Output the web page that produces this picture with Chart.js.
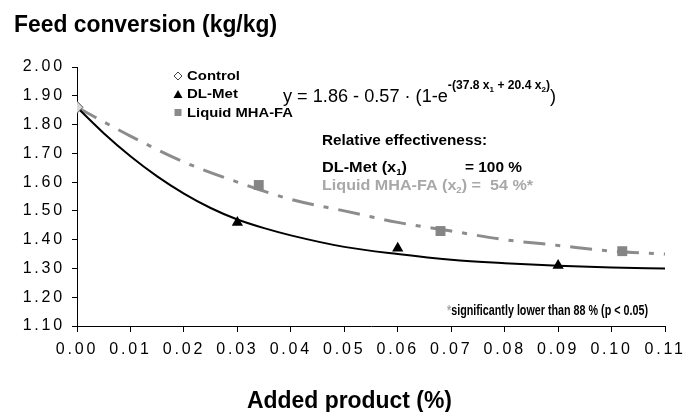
<!DOCTYPE html>
<html>
<head>
<meta charset="utf-8">
<script src="https://cdn.jsdelivr.net/npm/chart.js@4"></script>
<style>
  html, body { margin: 0; padding: 0; background: #fff; }
  #feedChart { display: block; }
</style>
</head>
<body>
<canvas id="feedChart" width="688" height="412"></canvas>
<script>
// values
const xTicks = [0, 0.01, 0.02, 0.03, 0.04, 0.05, 0.06, 0.07, 0.08, 0.09, 0.10, 0.11];
const yTicks = [1.1, 1.2, 1.3, 1.4, 1.5, 1.6, 1.7, 1.8, 1.9, 2.0];

const controlX = [0];
const controlY = [1.86];
const dlMetX = [0.03, 0.06, 0.09];
const dlMetY = [1.46, 1.37, 1.31];
const mhaX = [0.034, 0.068, 0.102];
const mhaY = [1.59, 1.43, 1.36];

// fitted curves
const dlFitX = [0, 0.005, 0.01, 0.015, 0.02, 0.025, 0.03, 0.035, 0.04, 0.05, 0.06, 0.07, 0.08, 0.09, 0.10, 0.11];
const dlFitY = [1.86, 1.77, 1.69, 1.62, 1.56, 1.51, 1.47, 1.44, 1.415, 1.375, 1.35, 1.33, 1.318, 1.309, 1.303, 1.30];
const mhaFitX = [0, 0.01, 0.02, 0.03, 0.04, 0.05, 0.06, 0.07, 0.08, 0.09, 0.10, 0.11];
const mhaFitY = [1.86, 1.76, 1.67, 1.60, 1.54, 1.50, 1.46, 1.43, 1.40, 1.38, 1.36, 1.35];

const FONT = '"Liberation Sans", Arial, sans-serif';

function pts(xs, ys) {
    return xs.map((x, i) => ({ x: x, y: ys[i] }));
}

// draws a line of text pieces, squeezed/stretched to a given width
function drawParts(ctx, x, y, parts, width) {
    ctx.save();
    ctx.letterSpacing = '0px';
    ctx.textAlign = 'left';
    ctx.textBaseline = 'alphabetic';
    let total = 0;
    parts.forEach(p => {
        ctx.font = p.font;
        p.w = ctx.measureText(p.t).width;
        total += p.w;
    });
    const k = width ? width / total : 1;
    ctx.translate(x, y);
    ctx.scale(k, 1);
    let cx = 0;
    parts.forEach(p => {
        ctx.font = p.font;
        ctx.fillStyle = p.color || '#000';
        ctx.fillText(p.t, cx, p.dy || 0);
        cx += p.w;
    });
    ctx.restore();
}

const textPlugin = {
    id: 'texts',
    beforeDraw(chart) {
        // wide spaced tick labels like the original
        chart.ctx.letterSpacing = '2.8px';
    },
    afterDraw(chart) {
        const ctx = chart.ctx;
        const b = 'bold ';
        const gray = '#a8a8a8';

        drawParts(ctx, 14, 32, [{ t: 'Feed conversion (kg/kg)', font: b + '23px ' + FONT }], 263);
        drawParts(ctx, 247, 408, [{ t: 'Added product (%)', font: b + '23px ' + FONT }], 205);

        // legend
        ctx.save();
        ctx.lineWidth = 1;
        ctx.strokeStyle = '#444';
        ctx.fillStyle = '#fff';
        ctx.beginPath();
        ctx.moveTo(178, 72); ctx.lineTo(182, 76); ctx.lineTo(178, 80); ctx.lineTo(174, 76); ctx.closePath();
        ctx.fill(); ctx.stroke();
        ctx.fillStyle = '#000';
        ctx.beginPath();
        ctx.moveTo(178, 90); ctx.lineTo(182.5, 98); ctx.lineTo(173.5, 98); ctx.closePath();
        ctx.fill();
        ctx.fillStyle = '#8a8a8a';
        ctx.fillRect(174.5, 109, 7, 7);
        ctx.restore();

        drawParts(ctx, 187, 80, [{ t: 'Control', font: b + '12px ' + FONT }], 53);
        drawParts(ctx, 187, 98, [{ t: 'DL-Met', font: b + '12px ' + FONT }], 51);
        drawParts(ctx, 187, 117, [{ t: 'Liquid MHA-FA', font: b + '12px ' + FONT }], 106);

        // equation
        const sup = b + '12px ' + FONT;
        const sub = b + '8px ' + FONT;
        drawParts(ctx, 283, 102, [
            { t: 'y = 1.86 - 0.57 \u00b7 (1-e', font: '18px ' + FONT },
            { t: '-(37.8 x', font: sup, dy: -13 },
            { t: '1', font: sub, dy: -10 },
            { t: ' + 20.4 x', font: sup, dy: -13 },
            { t: '2', font: sub, dy: -10 },
            { t: ')', font: sup, dy: -13 },
            { t: ')', font: '18px ' + FONT }
        ], 273);

        drawParts(ctx, 322, 145, [{ t: 'Relative effectiveness:', font: b + '15px ' + FONT }], 165);
        drawParts(ctx, 322, 172, [
            { t: 'DL-Met (x', font: b + '15px ' + FONT },
            { t: '1', font: b + '9px ' + FONT, dy: 3 },
            { t: ')', font: b + '15px ' + FONT }
        ], 85);
        drawParts(ctx, 465, 172, [{ t: '= 100 %', font: b + '15px ' + FONT }], 57);
        drawParts(ctx, 322, 190, [
            { t: 'Liquid MHA-FA (x', font: b + '15px ' + FONT, color: gray },
            { t: '2', font: b + '9px ' + FONT, dy: 3, color: gray },
            { t: ') =  54 %*', font: b + '15px ' + FONT, color: gray }
        ], 211);

        drawParts(ctx, 447, 315, [
            { t: '*', font: b + '15px ' + FONT, color: gray },
            { t: 'significantly lower than 88 % (p < 0.05)', font: b + '15px ' + FONT }
        ], 201);
    }
};

const ctx = document.getElementById('feedChart');
const feedChart = new Chart(ctx, {
    type: 'scatter',
    data: {
        datasets: [
            {
                label: 'Control',
                data: pts(controlX, controlY),
                pointStyle: 'rectRot',
                pointRadius: 6,
                backgroundColor: '#d9d9d9',
                borderColor: '#555',
                borderWidth: 1,
                order: 0
            },
            {
                label: 'DL-Met',
                data: pts(dlMetX, dlMetY),
                pointStyle: 'triangle',
                pointRadius: 6.5,
                backgroundColor: '#000',
                borderColor: '#000',
                borderWidth: 0,
                order: 0
            },
            {
                label: 'Liquid MHA-FA',
                data: pts(mhaX, mhaY),
                pointStyle: 'rect',
                pointRadius: 7,
                backgroundColor: '#858585',
                borderColor: '#858585',
                borderWidth: 0,
                order: 0
            },
            {
                label: 'DL-Met fit',
                data: pts(dlFitX, dlFitY),
                showLine: true,
                pointRadius: 0,
                borderColor: '#000',
                borderWidth: 2,
                cubicInterpolationMode: 'monotone',
                order: 1
            },
            {
                label: 'MHA-FA fit',
                data: pts(mhaFitX, mhaFitY),
                showLine: true,
                pointRadius: 0,
                borderColor: '#8c8c8c',
                borderWidth: 3,
                borderDash: [22, 10, 5, 10],
                cubicInterpolationMode: 'monotone',
                order: 1
            }
        ]
    },
    options: {
        responsive: false,
        animation: false,
        devicePixelRatio: 1,
        layout: { padding: { left: 0, right: 20, top: 67, bottom: 0 } },
        plugins: {
            legend: { display: false },
            tooltip: { enabled: false }
        },
        scales: {
            x: {
                type: 'linear',
                min: 0,
                max: 0.11,
                afterBuildTicks: scale => { scale.ticks = xTicks.map(v => ({ value: v })); },
                afterFit: scale => { scale.height = 86; },
                grid: { drawOnChartArea: false, drawTicks: true, tickLength: 6, color: '#000', lineWidth: 1 },
                border: { display: true, color: '#000', width: 1 },
                ticks: {
                    color: '#000',
                    padding: 8,
                    maxRotation: 0,
                    autoSkip: false,
                    font: { family: FONT, size: 16 },
                    callback: v => Number(v).toFixed(2)
                }
            },
            y: {
                type: 'linear',
                min: 1.1,
                max: 2.0,
                afterBuildTicks: scale => { scale.ticks = yTicks.map(v => ({ value: v })); },
                afterFit: scale => { scale.width = 77; },
                grid: { drawOnChartArea: false, drawTicks: true, tickLength: 5, color: '#000', lineWidth: 1 },
                border: { display: true, color: '#000', width: 1 },
                ticks: {
                    color: '#000',
                    padding: 7,
                    autoSkip: false,
                    font: { family: FONT, size: 16 },
                    callback: v => Number(v).toFixed(2)
                }
            }
        }
    },
    plugins: [textPlugin]
});
</script>
</body>
</html>
